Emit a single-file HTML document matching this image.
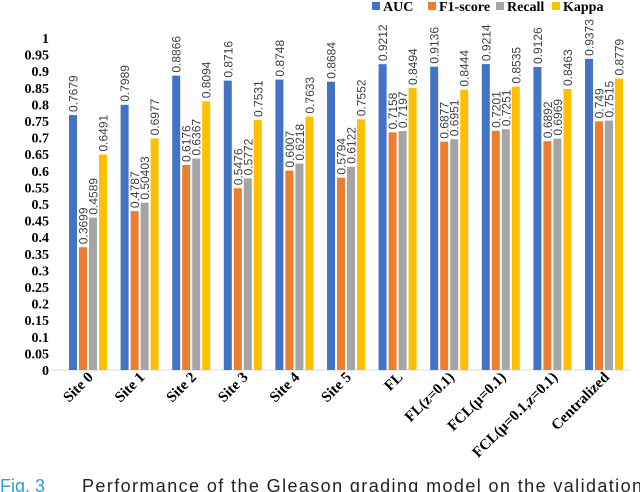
<!DOCTYPE html>
<html><head><meta charset="utf-8"><style>
body{margin:0;background:#fff;width:640px;height:492px;overflow:hidden}
svg{display:block}
</style></head><body>
<svg id="chart" width="640" height="492" xmlns="http://www.w3.org/2000/svg"></svg>
<script>
const categories=["Site 0","Site 1","Site 2","Site 3","Site 4","Site 5","FL","FL(z=0.1)","FCL(μ=0.1)","FCL(μ=0.1,z=0.1)","Centralized"];
const seriesNames=["AUC","F1-score","Recall","Kappa"];
const aucValues=[0.7679,0.7989,0.8866,0.8716,0.8748,0.8684,0.9212,0.9136,0.9214,0.9126,0.9373];
const f1Values=[0.3699,0.4787,0.6176,0.5476,0.6007,0.5794,0.7158,0.6877,0.7201,0.6892,0.749];
const recallValues=[0.4589,0.50403,0.6367,0.5772,0.6218,0.6122,0.7197,0.6951,0.7251,0.6969,0.7515];
const kappaValues=[0.6491,0.6977,0.8094,0.7531,0.7633,0.7552,0.8494,0.8444,0.8535,0.8463,0.8779];
const valueLabels=[
["0.7679","0.7989","0.8866","0.8716","0.8748","0.8684","0.9212","0.9136","0.9214","0.9126","0.9373"],
["0.3699","0.4787","0.6176","0.5476","0.6007","0.5794","0.7158","0.6877","0.7201","0.6892","0.749"],
["0.4589","0.50403","0.6367","0.5772","0.6218","0.6122","0.7197","0.6951","0.7251","0.6969","0.7515"],
["0.6491","0.6977","0.8094","0.7531","0.7633","0.7552","0.8494","0.8444","0.8535","0.8463","0.8779"]];
const yTicks=[0,0.05,0.1,0.15,0.2,0.25,0.3,0.35,0.4,0.45,0.5,0.55,0.6,0.65,0.7,0.75,0.8,0.85,0.9,0.95,1];
const colors=["#4472c4","#ed7d31","#a5a5a5","#ffc000"];
const series=[aucValues,f1Values,recallValues,kappaValues];
const svg=document.getElementById('chart');
const NS="http://www.w3.org/2000/svg";
const x0=62,groupW=51.6,y0=370,yScale=332;
const yPos=v=>y0-v*yScale;
const xGroup=i=>x0+i*groupW;
function mk(t,a){const e=document.createElementNS(NS,t);for(const k in a)e.setAttribute(k,a[k]);svg.appendChild(e);return e;}
yTicks.forEach(v=>{
const t=mk('text',{x:49,y:yPos(v)+5,'text-anchor':'end','font-family':'Liberation Serif, serif','font-weight':'bold','font-size':'14'});
t.textContent=String(v);


});
const ax=mk('line',{x1:52,x2:630,y1:y0,y2:y0,stroke:'#d9d9d9','stroke-width':1});


categories.forEach((c,i)=>{
series.forEach((s,j)=>{
const bx=xGroup(i)+7+j*10,by=yPos(s[i]);
const r=mk('rect',{x:bx,y:by,width:8,height:y0-by,fill:colors[j]});


const tx=bx+8.5,ty=by-3;
const t=mk('text',{x:tx,y:ty,transform:`rotate(-90 ${tx} ${ty})`,'font-family':'Liberation Sans, sans-serif','font-size':'12',fill:'#404040'});
t.textContent=valueLabels[j][i];


});
const cx=xGroup(i)+32,cy=378;
const l=mk('text',{x:cx,y:cy,transform:`rotate(-45 ${cx} ${cy})`,'text-anchor':'end','font-family':'Liberation Serif, serif','font-weight':'bold','font-size':'15'});
l.textContent=c;


});
const legX=[372,428,496,552];
seriesNames.forEach((n,j)=>{
const r=mk('rect',{x:legX[j],y:2,width:8,height:8,fill:colors[j]});


const t=mk('text',{x:legX[j]+11,y:11,'font-family':'Liberation Serif, serif','font-weight':'bold','font-size':'14'});
t.textContent=n;


});
const cap=mk('text',{x:0,y:492,'font-family':'Liberation Sans, sans-serif','font-size':'18'});


cap.innerHTML='<tspan fill="#2a9fd6">Fig. 3</tspan><tspan fill="#222" x="82" textLength="560" lengthAdjust="spacing">Performance of the Gleason grading model on the validation</tspan>';
</script>
</body></html>
